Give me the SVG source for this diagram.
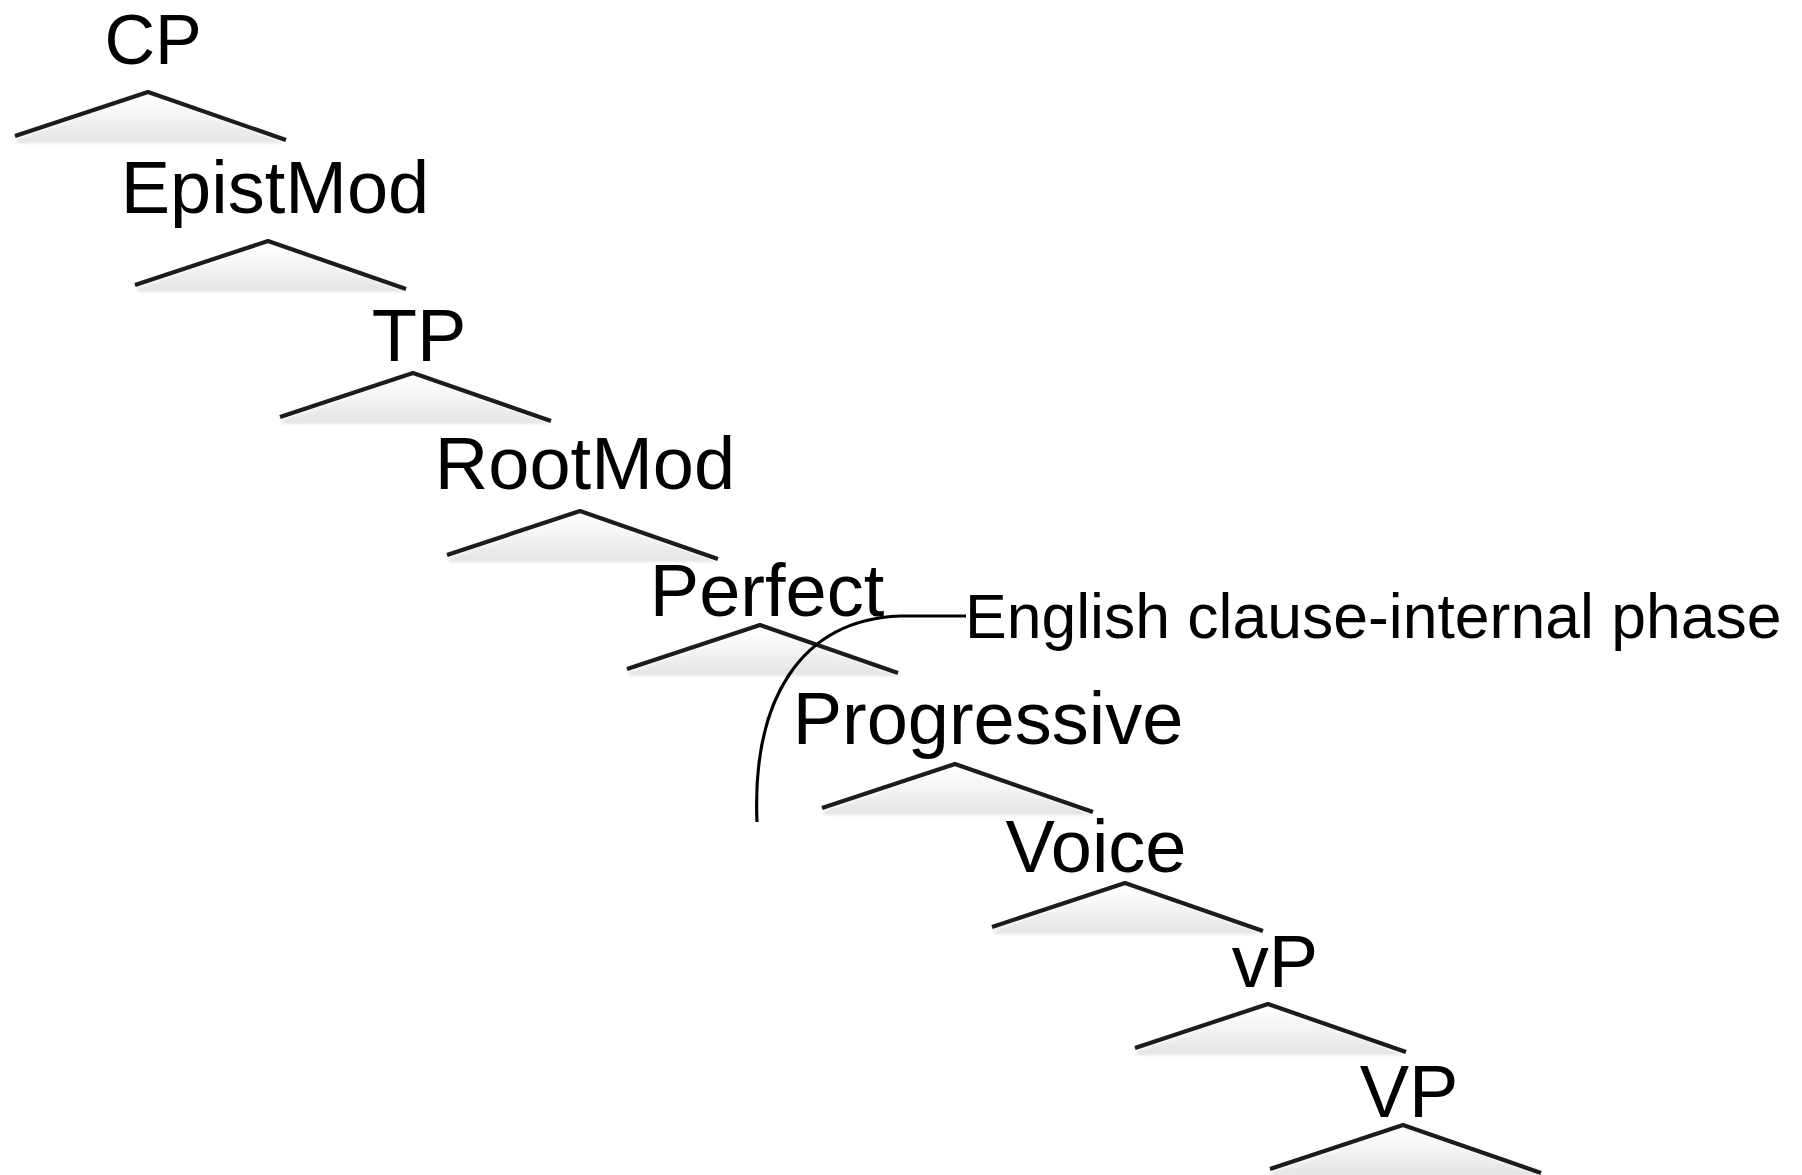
<svg xmlns="http://www.w3.org/2000/svg" width="1802" height="1175" viewBox="0 0 1802 1175">
  <defs>
    <!-- soft grey fill under each branching wedge -->
    <linearGradient id="wedgeShade" x1="0" y1="0" x2="0" y2="1">
      <stop offset="0" stop-color="#ffffff"/>
      <stop offset="0.55" stop-color="#f1f1f1"/>
      <stop offset="1" stop-color="#e3e3e3"/>
    </linearGradient>
    <filter id="soft" x="-5%" y="-20%" width="110%" height="140%">
      <feGaussianBlur stdDeviation="0.7"/>
    </filter>
    <filter id="softer" x="-5%" y="-20%" width="110%" height="140%">
      <feGaussianBlur stdDeviation="1.6"/>
    </filter>
    <!-- one wedge: apex at the origin -->
    <g id="wedge">
      <polygon points="0,3 -131,47 -131,51 136,51 136,50" fill="url(#wedgeShade)" filter="url(#softer)"/>
      <polyline points="-133,44 0,0 138,48" fill="none" stroke="#1e1e1e" stroke-width="4.2" stroke-linejoin="round" filter="url(#soft)"/>
    </g>
  </defs>
  <style>
    .lbl { font-family: "Liberation Sans", Arial, sans-serif; font-size: 74px; fill: #000; text-anchor: middle; }
    .top { font-size: 70px; }
    .note { font-family: "Liberation Sans", Arial, sans-serif; font-size: 62.5px; fill: #000; }
  </style>

  <rect width="1802" height="1175" fill="#ffffff"/>

  <g id="node-CP">
    <use href="#wedge" x="148" y="92"/>
    <text class="lbl top" x="153" y="64">CP</text>
  </g>
  <g id="node-EpistMod">
    <use href="#wedge" x="268" y="241"/>
    <text class="lbl" x="275" y="213">EpistMod</text>
  </g>
  <g id="node-TP">
    <use href="#wedge" x="413" y="373"/>
    <text class="lbl" x="419" y="361">TP</text>
  </g>
  <g id="node-RootMod">
    <use href="#wedge" x="580" y="511"/>
    <text class="lbl" x="585" y="489">RootMod</text>
  </g>
  <g id="node-Perfect">
    <use href="#wedge" x="760" y="625"/>
    <text class="lbl" x="767" y="616">Perfect</text>
  </g>
  <g id="node-Progressive">
    <use href="#wedge" x="955" y="764"/>
    <text class="lbl" x="988" y="744">Progressive</text>
  </g>
  <g id="node-Voice">
    <use href="#wedge" x="1125" y="883"/>
    <text class="lbl" x="1096" y="872">Voice</text>
  </g>
  <g id="node-vP">
    <use href="#wedge" x="1268" y="1004"/>
    <text class="lbl" x="1275" y="987">vP</text>
  </g>
  <g id="node-VP">
    <use href="#wedge" x="1403" y="1125"/>
    <text class="lbl" x="1409" y="1117">VP</text>
  </g>

  <g id="node-phase">
    <text class="note" x="965" y="638">English clause-internal phase</text>
  </g>

  <!-- phase bracket, drawn over the wedges -->
  <g id="connectors">
    <path d="M966,616 L900,616 C800,620 752,700 757,822" fill="none" stroke="#000" stroke-width="3.2"/>
  </g>
</svg>
